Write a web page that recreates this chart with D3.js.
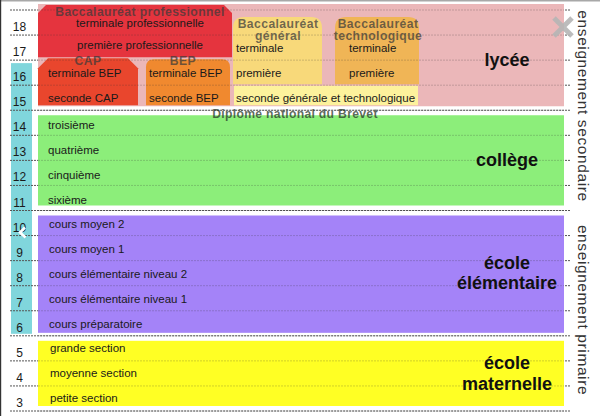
<!DOCTYPE html>
<html><head><meta charset="utf-8">
<script src="https://cdn.jsdelivr.net/npm/d3@7/dist/d3.min.js"></script>
<style>html,body{margin:0;padding:0;background:#fff;}svg{display:block;font-family:"Liberation Sans",Arial,sans-serif;}</style>
</head><body>
<script>
// ---- data ----
const ages = [18,17,16,15,14,13,12,11,10,9,8,7,6,5,4,3];
const highlightedAges = [16,15,14,13,12,11,10,9,8,7,6];

const schoolNames = ["lycée", "collège", "école élémentaire", "école maternelle"];
const schoolTopAge = [18, 14, 10, 5];
const schoolBottomAge = [15, 11, 6, 3];

const trackNames = ["Baccalauréat professionnel", "CAP", "BEP", "Baccalauréat général", "Baccalauréat technologique", "seconde générale et technologique"];
const trackTopAge = [18, 16, 16, 17, 17, 15];
const trackBottomAge = [17, 15, 15, 16, 16, 15];

const gradeNames = ["terminale professionnelle", "première professionnelle", "terminale BEP", "seconde CAP", "terminale BEP", "seconde BEP",
  "terminale", "première", "terminale", "première", "seconde générale et technologique",
  "troisième", "quatrième", "cinquième", "sixième",
  "cours moyen 2", "cours moyen 1", "cours élémentaire niveau 2", "cours élémentaire niveau 1", "cours préparatoire",
  "grande section", "moyenne section", "petite section"];
const gradeAges = [18,17,16,15,16,15,17,16,17,16,15,14,13,12,11,10,9,8,7,6,5,4,3];
const gradeGroup = ["pro","pro","cap","cap","bep","bep","gen","gen","tech","tech","sgt","col","col","col","col","ele","ele","ele","ele","ele","mat","mat","mat"];

const sectorNames = ["enseignement secondaire", "enseignement primaire"];
const sectorTopAge = [18, 10];
const sectorBottomAge = [11, 3];

// ---- layout ----
const W = 600, H = 416;
const y = d3.scaleLinear().domain([19, 3]).range([10, 411]);
const rowTop = a => y(a + 1), rowBot = a => y(a), rowMid = a => (y(a + 1) + y(a)) / 2;

const svg = d3.select("body").append("svg").attr("width", W).attr("height", H);

// frame edges
svg.append("rect").attr("x",0).attr("y",0).attr("width",W).attr("height",1.5).attr("fill","#a8a8a8");
svg.append("rect").attr("x",0).attr("y",0).attr("width",1.2).attr("height",H).attr("fill","#333");

// cyan strip
svg.append("rect").attr("x", 11).attr("width", 21)
  .attr("y", rowTop(d3.max(highlightedAges)) + 3)
  .attr("height", rowBot(d3.min(highlightedAges)) - rowTop(d3.max(highlightedAges)) - 5)
  .attr("fill", "#80d6dc");

// dashed row lines (under)
const lineYs = ages.map(a => rowTop(a)).concat([rowBot(3)]);
svg.append("g").selectAll("line").data(lineYs).join("line")
  .attr("x1", 10).attr("x2", 570).attr("y1", d => d).attr("y2", d => d)
  .attr("stroke", "#555").attr("stroke-width", 1).attr("stroke-dasharray", "2,1");

// school boxes
const schoolColor = d3.scaleOrdinal().domain(schoolNames).range(["#ebb7b9", "#8cee7a", "#a483f8", "#ffff24"]);
const schoolPadTop = [-6, 5, 5, 5], schoolPadBot = [4, 5, 3, 5];
svg.append("g").selectAll("rect").data(schoolNames).join("rect")
  .attr("x", 38).attr("width", 526)
  .attr("y", (d, i) => rowTop(schoolTopAge[i]) + schoolPadTop[i])
  .attr("height", (d, i) => rowBot(schoolBottomAge[i]) - schoolPadBot[i] - (rowTop(schoolTopAge[i]) + schoolPadTop[i]))
  .attr("fill", d => schoolColor(d));

// track shapes in lycée
const trackColor = d3.scaleOrdinal().domain(trackNames).range(["#e5343e", "#e9462d", "#f0892f", "#f8d97a", "#f0b556", "#fdf29c"]);
const trackX = [[38, 232], [38, 138], [146, 230], [233, 322], [335, 419], [234, 418]];
const trackTop = trackTopAge.map((a, i) => rowTop(a) + [-5, -2, -1, -18, -18, 0.5][i]);
const trackBot = trackBottomAge.map((a, i) => rowBot(a) - [3, 5, 5, 1, 1, 5][i]);
function trackPath(i) {
  const [x0, x1] = trackX[i], t = trackTop[i], b = trackBot[i];
  const p = d3.path();
  if (i === 0 || i === 1) { // chamfered top
    const c = i === 0 ? 8 : 10;
    p.moveTo(x0, b); p.lineTo(x0, t + c); p.lineTo(x0 + c, t); p.lineTo(x1 - c, t); p.lineTo(x1, t + c); p.lineTo(x1, b); p.closePath();
  } else if (i === 5) {
    p.rect(x0, t, x1 - x0, b - t);
  } else { // rounded top
    const r = i === 2 ? 8 : 11;
    p.moveTo(x0, b); p.lineTo(x0, t + r); p.quadraticCurveTo(x0, t, x0 + r, t); p.lineTo(x1 - r, t);
    p.quadraticCurveTo(x1, t, x1, t + r); p.lineTo(x1, b); p.closePath();
  }
  return p.toString();
}
svg.append("g").selectAll("path").data(trackNames).join("path")
  .attr("d", (d, i) => trackPath(i)).attr("fill", d => trackColor(d));

// faint dashed lines over boxes
svg.append("g").selectAll("line").data(lineYs).join("line")
  .attr("x1", 38).attr("x2", 564).attr("y1", d => d).attr("y2", d => d)
  .attr("stroke", "#333").attr("stroke-opacity", 0.22).attr("stroke-width", 1).attr("stroke-dasharray", "2,1");

// age labels
svg.append("g").selectAll("text").data(ages).join("text")
  .attr("x", 19.5).attr("y", a => rowBot(a) - 4).attr("text-anchor", "middle")
  .attr("font-size", 12).attr("fill", "#1a1a1a").text(a => a);

// track titles
const titleLines = [["Baccalauréat professionnel"], ["CAP"], ["BEP"], ["Baccalauréat", "général"], ["Baccalauréat", "technologique"], []];
const titleCx = [140, 88, 183, 278, 378, 0];
const titleY = [rowTop(18) + 1.5, rowTop(16) + 0.5, rowTop(16) + 0.5, rowTop(17) - 11.5, rowTop(17) - 11.5, 0];
const tt = svg.append("g").attr("font-weight", "bold").attr("font-size", 12.2).attr("text-anchor", "middle")
  .attr("fill", "#3a3a3a").attr("fill-opacity", 0.72).attr("letter-spacing", 0.4);
titleLines.forEach((lines, i) => {
  lines.forEach((ln, k) => {
    tt.append("text").attr("x", titleCx[i]).attr("y", titleY[i] + k * 12.5 + 4).text(ln);
  });
});
// brevet
svg.append("text").attr("x", 295).attr("y", rowTop(14) + 8).attr("text-anchor", "middle")
  .attr("font-weight", "bold").attr("font-size", 12.2).attr("letter-spacing", 0.3)
  .attr("fill", "#2a3a2a").attr("fill-opacity", 0.75).text("Diplôme national du Brevet");

// grade labels
const groupX = {pro: 140, cap: 48, bep: 149, gen: 236, tech: 349, sgt: 236, col: 48, ele: 49, mat: 50};
const groupDy = {pro: 0.5, cap: 0.5, bep: 0.5, gen: 0, tech: 0, sgt: 0, col: 2, ele: 1, mat: 0};
svg.append("g").selectAll("text").data(gradeNames).join("text")
  .attr("x", (d, i) => groupX[gradeGroup[i]])
  .attr("y", (d, i) => rowMid(gradeAges[i]) + 4 + groupDy[gradeGroup[i]] - (i === 1 ? 3 : 0))
  .attr("text-anchor", (d, i) => gradeGroup[i] === "pro" ? "middle" : "start")
  .attr("font-size", 11.5).attr("fill", "#1a1a1a").text(d => d);

// school names
const schoolLines = [["lycée"], ["collège"], ["école", "élémentaire"], ["école", "maternelle"]];
const sn = svg.append("g").attr("font-weight", "bold").attr("font-size", 18).attr("text-anchor", "middle").attr("fill", "#111");
schoolLines.forEach((lines, i) => {
  const cy = (rowTop(schoolTopAge[i]) + rowBot(schoolBottomAge[i])) / 2;
  lines.forEach((ln, k) => {
    sn.append("text").attr("x", 507).attr("y", cy + 6 + (k - (lines.length - 1) / 2) * 20.5).text(ln);
  });
});

// sector labels (vertical)
const secCy = [106, 310];
svg.append("g").selectAll("text").data(sectorNames).join("text")
  .attr("transform", (d, i) => `translate(578,${secCy[i]}) rotate(90)`)
  .attr("text-anchor", "middle").attr("font-size", 15.5).attr("letter-spacing", 0.6)
  .attr("fill", "#333").text(d => d);

// viewer overlay marks
svg.append("path").attr("d", "M554,18L572,36M572,18L554,36").attr("stroke", "#b5b5b5")
  .attr("stroke-width", 5).attr("stroke-opacity", 0.9);
svg.append("path").attr("d", "M25,227.5L20,232.5L25.5,237.5").attr("stroke", "#fff").attr("fill", "none")
  .attr("stroke-width", 2.5);
</script>
</body></html>
